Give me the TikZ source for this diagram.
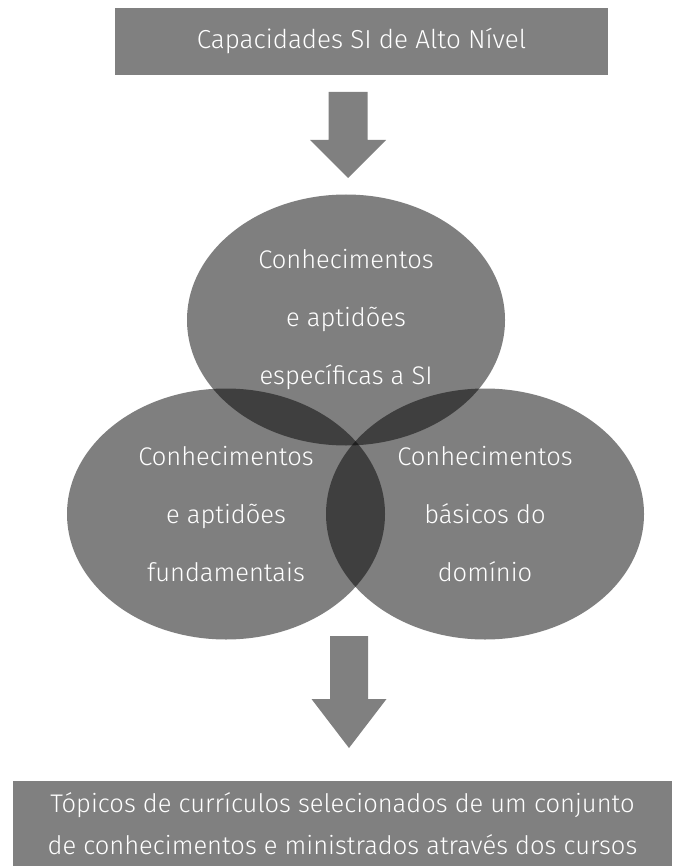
\documentclass[tikz,border=0pt]{standalone}
\usepackage{fontspec}
\setmainfont{Fira Sans}[UprightFont=* Light]
\usetikzlibrary{shapes.geometric}

\tikzset{
  greybox/.style={fill=black!50, text=white, inner sep=0pt, align=center},
  venn/.style={ellipse, fill=black, fill opacity=0.5, text opacity=1, text=white,
    minimum width=318pt, minimum height=251pt, inner sep=0pt, align=center,
    font=\fontsize{25.5}{58}\selectfont},
  blockarrow/.style={fill=black!50}
}

\begin{document}
\begin{tikzpicture}[x=1pt,y=-1pt]
\useasboundingbox (0,0) rectangle (672,866);

% header
\node[greybox, minimum width=493pt, minimum height=67pt,
  font=\fontsize{26}{30}\selectfont] (header) at (361.5,41.5) {Capacidades SI de Alto Nível};

% the three sets
\node[venn] (specific) at (346,320) {Conhecimentos\\e aptidões\\específicas a SI};
\node[venn] (fundamental) at (226,514) {Conhecimentos\\e aptidões\\fundamentais};
\node[venn] (domain) at (485,514) {Conhecimentos\\básicos do\\domínio};

% result
\node[greybox, minimum width=659pt, minimum height=85pt,
  font=\fontsize{25.5}{42}\selectfont] (topics) at (342.5,823.5)
  {Tópicos de currículos selecionados de um conjunto\\de conhecimentos e ministrados através dos cursos};

% block arrows
\coordinate (arrowA) at (348,92);
\coordinate (arrowB) at (349,636);
\fill[blockarrow] (arrowA) ++(-19.5,0) -- ++(39,0) -- ++(0,48) -- ++(18.5,0)
  -- ++(-38,38) -- ++(-38,-38) -- ++(18.5,0) -- cycle;
\fill[blockarrow] (arrowB) ++(-19,0) -- ++(38,0) -- ++(0,63) -- ++(18.5,0)
  -- ++(-37.5,49) -- ++(-37.5,-49) -- ++(18.5,0) -- cycle;
\end{tikzpicture}
\end{document}
